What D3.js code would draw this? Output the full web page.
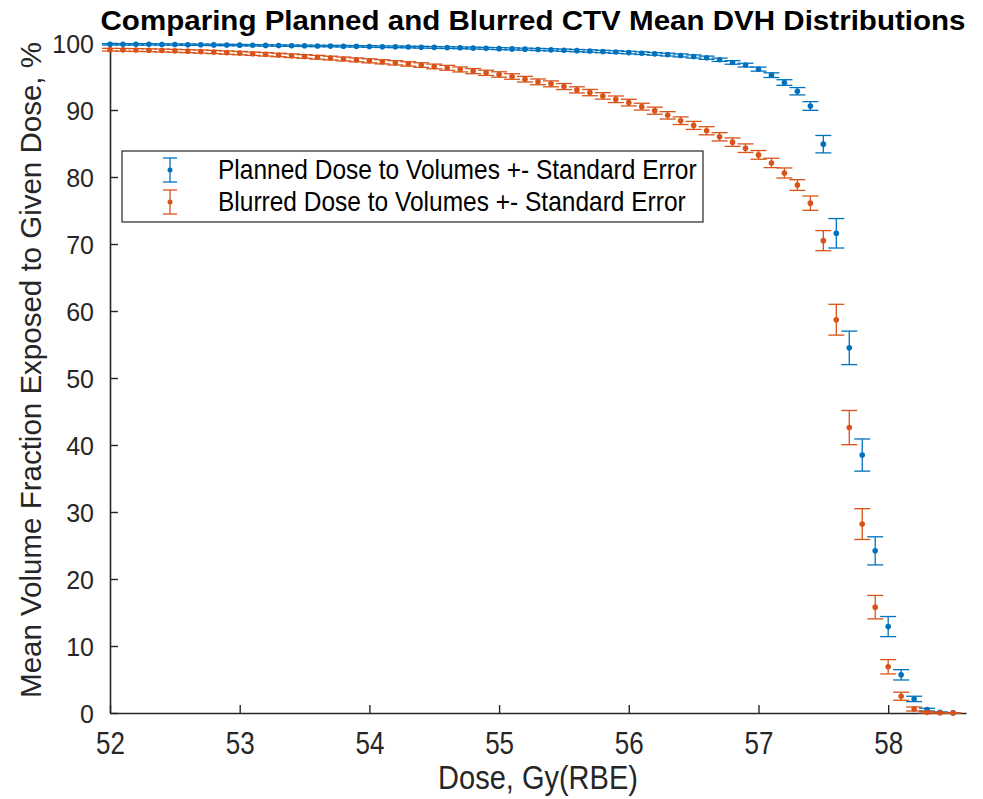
<!DOCTYPE html>
<html>
<head>
<meta charset="utf-8">
<script src="https://cdn.jsdelivr.net/npm/d3@7"></script>
<style>
  body { margin: 0; background: #fff; }
  text { font-family: "Liberation Sans", Arial, Helvetica, sans-serif; }
</style>
</head>
<body>
<svg id="chart-container" width="983" height="799"></svg>
<script>
// Dose bins (Gy(RBE)) shared by both series
const dose = [
  52.0, 52.1, 52.2, 52.3, 52.4, 52.5, 52.6, 52.7, 52.8, 52.9,
  53.0, 53.1, 53.2, 53.3, 53.4, 53.5, 53.6, 53.7, 53.8, 53.9,
  54.0, 54.1, 54.2, 54.3, 54.4, 54.5, 54.6, 54.7, 54.8, 54.9,
  55.0, 55.1, 55.2, 55.3, 55.4, 55.5, 55.6, 55.7, 55.8, 55.9,
  56.0, 56.1, 56.2, 56.3, 56.4, 56.5, 56.6, 56.7, 56.8, 56.9,
  57.0, 57.1, 57.2, 57.3, 57.4, 57.5, 57.6, 57.7, 57.8, 57.9,
  58.0, 58.1, 58.2, 58.3, 58.4, 58.5
];

// Planned dose: mean volume fraction (%) and standard error
const plannedMean = [
  99.8, 99.8, 99.8, 99.8, 99.78, 99.77, 99.75, 99.74, 99.72, 99.7,
  99.68, 99.66, 99.64, 99.62, 99.6, 99.58, 99.56, 99.54, 99.52, 99.5,
  99.48, 99.45, 99.43, 99.4, 99.37, 99.34, 99.31, 99.28, 99.24, 99.2,
  99.16, 99.12, 99.08, 99.03, 98.98, 98.92, 98.86, 98.8, 98.73, 98.65,
  98.57, 98.48, 98.38, 98.27, 98.14, 97.99, 97.8, 97.5, 97.1, 96.7,
  96.1, 95.2, 94.1, 92.8, 90.6, 84.9, 71.6, 54.5, 38.5, 24.2,
  12.9, 5.7, 2.1, 0.5, 0.1, 0.02
];
const plannedErr = [
  0.1, 0.1, 0.1, 0.1, 0.1, 0.1, 0.1, 0.1, 0.1, 0.1,
  0.1, 0.1, 0.1, 0.1, 0.1, 0.1, 0.11, 0.11, 0.11, 0.11,
  0.12, 0.12, 0.12, 0.12, 0.13, 0.13, 0.13, 0.13, 0.14, 0.14,
  0.15, 0.15, 0.15, 0.16, 0.16, 0.17, 0.17, 0.18, 0.18, 0.19,
  0.19, 0.2, 0.2, 0.21, 0.22, 0.23, 0.24, 0.25, 0.27, 0.28,
  0.3, 0.35, 0.42, 0.55, 0.65, 1.3, 2.2, 2.5, 2.4, 2.1,
  1.5, 0.77, 0.4, 0.2, 0.06, 0.02
];

// Blurred dose: mean volume fraction (%) and standard error
const blurredMean = [
  99.0, 98.98, 98.95, 98.92, 98.88, 98.83, 98.78, 98.72, 98.65, 98.57,
  98.49, 98.4, 98.31, 98.21, 98.1, 97.99, 97.87, 97.75, 97.62, 97.48,
  97.34, 97.19, 97.04, 96.88, 96.71, 96.5, 96.3, 96.05, 95.8, 95.55,
  95.3, 95.0, 94.6, 94.2, 93.9, 93.5, 93.0, 92.6, 92.1, 91.6,
  91.1, 90.5, 89.9, 89.2, 88.4, 87.7, 86.9, 86.0, 85.2, 84.3,
  83.3, 82.1, 80.6, 78.8, 76.1, 70.5, 58.7, 42.6, 28.2, 15.8,
  6.9, 2.5, 0.6, 0.1, 0.03, 0.01
];
const blurredErr = [
  0.2, 0.2, 0.21, 0.21, 0.22, 0.22, 0.23, 0.23, 0.24, 0.24,
  0.25, 0.25, 0.26, 0.26, 0.27, 0.27, 0.28, 0.28, 0.29, 0.29,
  0.3, 0.31, 0.32, 0.33, 0.34, 0.35, 0.36, 0.37, 0.38, 0.39,
  0.4, 0.41, 0.42, 0.43, 0.44, 0.45, 0.46, 0.47, 0.48, 0.49,
  0.5, 0.51, 0.53, 0.55, 0.57, 0.6, 0.61, 0.62, 0.63, 0.64,
  0.65, 0.7, 0.75, 0.8, 1.07, 1.5, 2.3, 2.55, 2.3, 1.75,
  1.07, 0.6, 0.3, 0.1, 0.03, 0.01
];

const xTicks = [52, 53, 54, 55, 56, 57, 58];
const yTicks = [0, 10, 20, 30, 40, 50, 60, 70, 80, 90, 100];

const seriesNames = [
  "Planned Dose to Volumes +- Standard Error",
  "Blurred Dose to Volumes +- Standard Error"
];
const seriesColors = ["#0072BD", "#D95319"];

const svg = d3.select("#chart-container");
const margin = { top: 43, right: 17, bottom: 86, left: 110 };
const width = svg.attr("width") - margin.left - margin.right;
const height = svg.attr("height") - margin.top - margin.bottom;
const axisColor = "#262626";

const chartGroup = svg.append("g").attr("transform", `translate(${margin.left}, ${margin.top})`);

const xScale = d3.scaleLinear().domain([52, 58.6]).range([0, width]);
const yScale = d3.scaleLinear().domain([0, 100]).range([height, 0]);

// x axis: ticks point inward (up)
const xAxis = chartGroup.append("g")
    .attr("transform", `translate(0, ${height})`)
    .call(d3.axisBottom(xScale).tickValues(xTicks).tickSizeInner(-8).tickSizeOuter(0).tickFormat(d3.format("d")));

// y axis: ticks point inward (right)
const yAxis = chartGroup.append("g")
    .call(d3.axisLeft(yScale).tickValues(yTicks).tickSizeInner(-8).tickSizeOuter(0).tickPadding(16));

[xAxis, yAxis].forEach(ax => {
    ax.select(".domain").attr("stroke", axisColor).attr("stroke-width", 1.6);
    ax.selectAll(".tick line").attr("stroke", axisColor).attr("stroke-width", 1.4);
    ax.selectAll(".tick text").attr("fill", axisColor);
});
// the reference glyphs look a bit taller than wide, so stretch vertically
xAxis.selectAll(".tick text")
    .attr("y", null).attr("dy", null)
    .attr("transform", "translate(0, 41) scale(1, 1.2)")
    .style("font-size", "26px");
yAxis.selectAll(".tick text")
    .attr("dy", "0.36em")
    .style("font-size", "25px");

// axis titles
svg.append("text")
    .attr("transform", `translate(${margin.left + xScale(55.3)}, 789) scale(1, 1.15)`)
    .attr("text-anchor", "middle")
    .attr("fill", axisColor)
    .style("font-size", "29px")
    .text("Dose, Gy(RBE)");

svg.append("text")
    .attr("transform", `translate(41, 370) rotate(-90)`)
    .attr("text-anchor", "middle")
    .attr("fill", axisColor)
    .style("font-size", "29.5px")
    .text("Mean Volume Fraction Exposed to Given Dose, %");

// chart title
svg.append("text")
    .attr("transform", "translate(533, 30) scale(1, 1.08)")
    .attr("text-anchor", "middle")
    .attr("fill", "#000")
    .style("font-size", "26px")
    .style("font-weight", "bold")
    .attr("textLength", 865)
    .attr("lengthAdjust", "spacingAndGlyphs")
    .text("Comparing Planned and Blurred CTV Mean DVH Distributions");

// error bar series
const capHalf = 8;
const series = [
    { mean: plannedMean, err: plannedErr },
    { mean: blurredMean, err: blurredErr }
];

series.forEach((s, si) => {
    const data = dose.map((d, i) => ({ x: d, y: s.mean[i], e: s.err[i] }));
    const color = seriesColors[si];
    const g = chartGroup.append("g").attr("class", "series-" + si);

    const bar = g.selectAll("g.bar")
        .data(data)
        .enter()
        .append("g")
        .attr("class", "bar")
        .attr("stroke", color)
        .attr("stroke-width", 1.3);

    bar.append("line")
        .attr("x1", d => xScale(d.x)).attr("x2", d => xScale(d.x))
        .attr("y1", d => yScale(d.y + d.e)).attr("y2", d => yScale(d.y - d.e));
    bar.append("line")
        .attr("x1", d => xScale(d.x) - capHalf).attr("x2", d => xScale(d.x) + capHalf)
        .attr("y1", d => yScale(d.y + d.e)).attr("y2", d => yScale(d.y + d.e));
    bar.append("line")
        .attr("x1", d => xScale(d.x) - capHalf).attr("x2", d => xScale(d.x) + capHalf)
        .attr("y1", d => yScale(d.y - d.e)).attr("y2", d => yScale(d.y - d.e));

    g.selectAll("circle")
        .data(data)
        .enter()
        .append("circle")
        .attr("cx", d => xScale(d.x))
        .attr("cy", d => yScale(d.y))
        .attr("r", 2.8)
        .attr("fill", color);
});

// legend
const legend = svg.append("g").attr("class", "legend").attr("transform", "translate(122, 151)");
legend.append("rect")
    .attr("width", 581)
    .attr("height", 71)
    .attr("fill", "#fff")
    .attr("stroke", axisColor)
    .attr("stroke-width", 1.2);

const legendItem = legend.selectAll(".legend-item")
    .data(seriesNames)
    .enter()
    .append("g")
    .attr("class", "legend-item")
    .attr("transform", (d, i) => `translate(0, ${19 + i * 32})`);

legendItem.each(function(d, i) {
    const item = d3.select(this);
    const c = seriesColors[i];
    item.append("line").attr("x1", 48).attr("x2", 48).attr("y1", -12).attr("y2", 12).attr("stroke", c).attr("stroke-width", 1.3);
    item.append("line").attr("x1", 41).attr("x2", 55).attr("y1", -12).attr("y2", -12).attr("stroke", c).attr("stroke-width", 1.3);
    item.append("line").attr("x1", 41).attr("x2", 55).attr("y1", 12).attr("y2", 12).attr("stroke", c).attr("stroke-width", 1.3);
    item.append("circle").attr("cx", 48).attr("cy", 0).attr("r", 2.5).attr("fill", c);
});

legendItem.append("text")
    .attr("transform", "translate(96, 9) scale(1, 1.1)")
    .attr("fill", "#000")
    .style("font-size", "24.5px")
    .text(d => d);
</script>
</body>
</html>
